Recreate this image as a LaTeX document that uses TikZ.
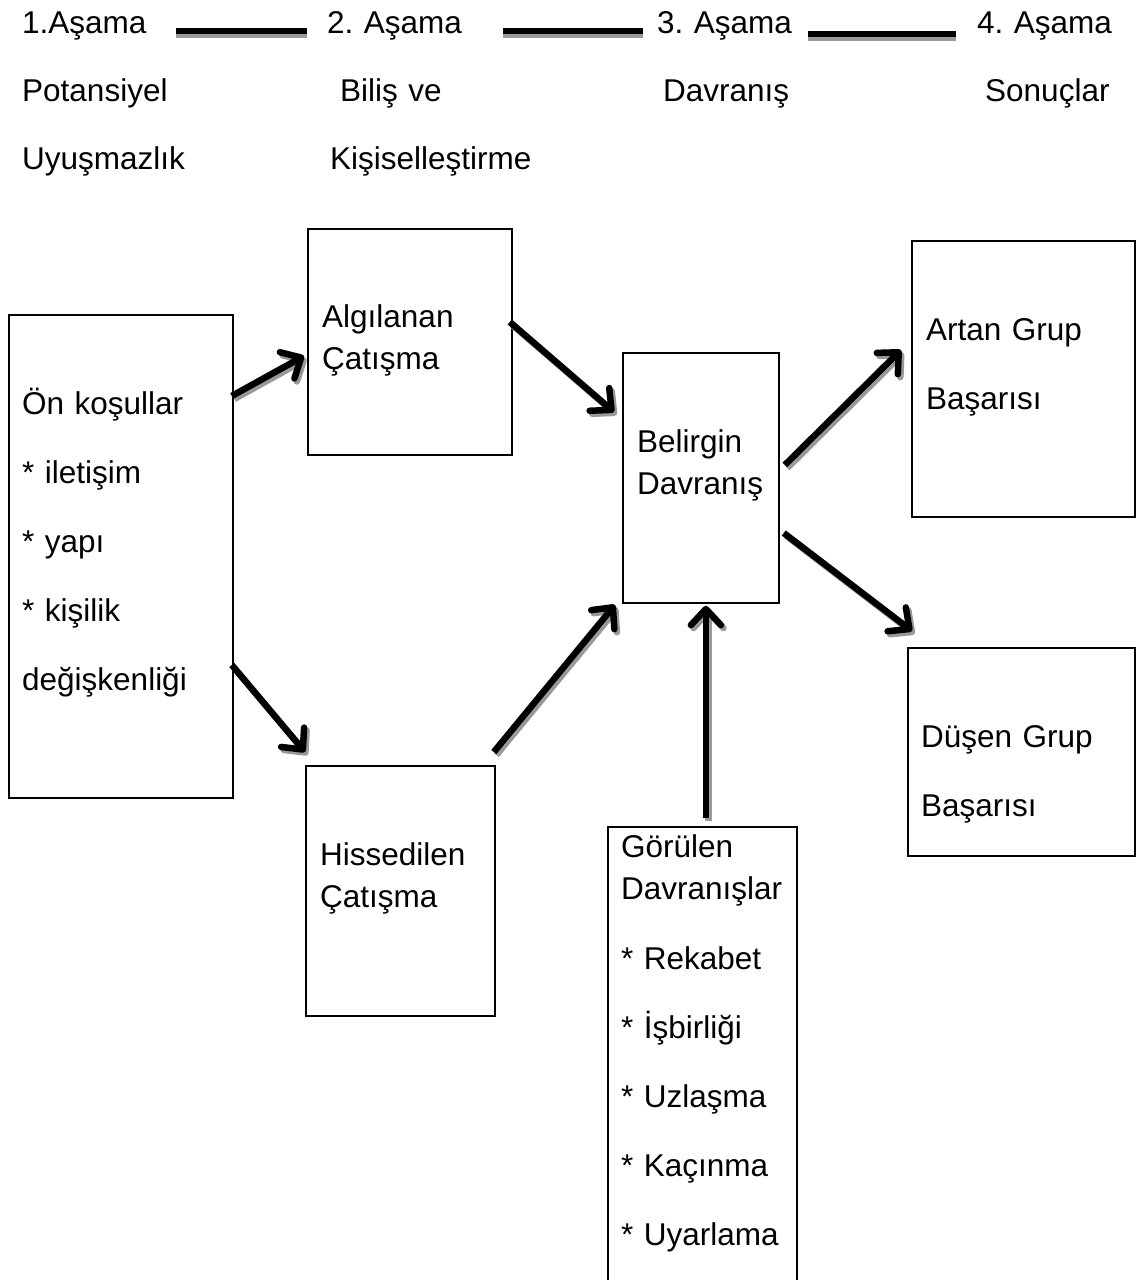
\documentclass[tikz,border=0pt]{standalone}
\usepackage{fontspec}
\setmainfont{Liberation Sans}
\usetikzlibrary{arrows.meta,calc}
\tikzset{
    %Define style for boxes
    box/.style={
           rectangle,
           draw=black, line width=1.8pt,
           inner sep=0pt,
           anchor=north west},
    %Define style for texts
    txt/.style={
           inner sep=0pt,
           anchor=base west,
           text width=300pt,
           align=left,
           font=\fontsize{31.5}{42}\selectfont\frenchspacing},
    % Define arrow style
    arr/.style={
           -{Straight Barb[length=16pt,width=30pt,round]},
           line width=6.5pt,
           preaction={draw=black!40, line width=6.5pt, transform canvas={shift={(2.5pt,-3pt)}}}},
    % Define header line style
    headline/.style={
           line width=5.5pt,
           preaction={draw=black!40, line width=5pt, transform canvas={shift={(0pt,-4pt)}}}}
}

\begin{document}
\begin{tikzpicture}[x=1pt,y=1pt]
  \clip (0,0) rectangle (1136,-1280);

  % header
  \node[txt] (h1) at (22,-33) {1.Aşama};
  \node[txt] (h2) at (327,-33) {2. Aşama};
  \node[txt] (h3) at (657,-33) {3. Aşama};
  \node[txt] (h4) at (977,-33) {4. Aşama};
  \node[txt] (s1) at (22,-101) {Potansiyel};
  \node[txt] (s2) at (340,-101) {Biliş ve};
  \node[txt] (s3) at (663,-101) {Davranış};
  \node[txt] (s4) at (985,-101) {Sonuçlar};
  \node[txt] (t1) at (22,-169) {Uyuşmazlık};
  \node[txt] (t2) at (330,-169) {Kişiselleştirme};

  \draw[headline, shorten <=28pt, shorten >=20pt] ([yshift=2pt]h1.base west -| 148,0) -- ([yshift=2pt]h2.base west);
  \draw[headline, shorten <=41pt, shorten >=14pt] ([yshift=2pt]h2.base west -| 462,0) -- ([yshift=2pt]h3.base west);
  \draw[headline, shorten <=18pt, shorten >=21pt] ([yshift=-1pt]h3.base west -| 790,0) -- ([yshift=-1pt]h4.base west);

  % boxes
  \node[box, minimum width=224pt, minimum height=483pt] (onkos) at (8,-314) {};
  \node[box, minimum width=204pt, minimum height=226pt] (algi) at (307,-228) {};
  \node[box, minimum width=189pt, minimum height=250pt] (hiss) at (305,-765) {};
  \node[box, minimum width=156pt, minimum height=250pt] (belir) at (622,-352) {};
  \node[box, minimum width=189pt, minimum height=500pt] (gorul) at (607,-826) {};
  \node[box, minimum width=223pt, minimum height=276pt] (artan) at (911,-240) {};
  \node[box, minimum width=227pt, minimum height=208pt] (dusen) at (907,-647) {};

  % box texts
  \node[txt] (onkos-t) at ($(onkos.north west)+(14,-100)$)
    {Ön koşullar\\[27pt]* iletişim\\[27pt]* yapı\\[27pt]* kişilik\\[27pt]değişkenliği};
  \node[txt] (algi-t) at ($(algi.north west)+(15,-99)$) {Algılanan\\Çatışma};
  \node[txt] (hiss-t) at ($(hiss.north west)+(15,-100)$) {Hissedilen\\Çatışma};
  \node[txt] (belir-t) at ($(belir.north west)+(15,-100)$) {Belirgin\\Davranış};
  \node[txt] (gorul-t) at ($(gorul.north west)+(14,-31)$)
    {Görülen\\Davranışlar\\[28pt]* Rekabet\\[27pt]* İşbirliği\\[27pt]* Uzlaşma\\[27pt]* Kaçınma\\[27pt]* Uyarlama};
  \node[txt] (artan-t) at ($(artan.north west)+(15,-100)$) {Artan Grup\\[27pt]Başarısı};
  \node[txt] (dusen-t) at ($(dusen.north west)+(14,-100)$) {Düşen Grup\\[27pt]Başarısı};

  % arrows
  \draw[arr] ($(onkos.north east)+(-2,-82)$) -- ($(algi.north west)+(-3,-128)$);
  \draw[arr] ($(onkos.north east)+(-2,-351)$) -- ($(hiss.north west)+(0,13)$);
  \draw[arr] ($(algi.north east)+(-3,-94)$) -- ($(belir.north west)+(-8,-60)$);
  \draw[arr] ($(hiss.north east)+(-2,13)$) -- ($(belir.south west)+(-7,-1)$);
  \draw[arr] ($(gorul.north)+(3.5,8)$) -- ($(belir.south)+(5,-2)$);
  \draw[arr] ($(belir.north east)+(5,-113)$) -- ($(artan.north west)+(-10,-110)$);
  \draw[arr] ($(belir.north east)+(4,-181)$) -- ($(dusen.north west)+(5,16)$);
\end{tikzpicture}
\end{document}
